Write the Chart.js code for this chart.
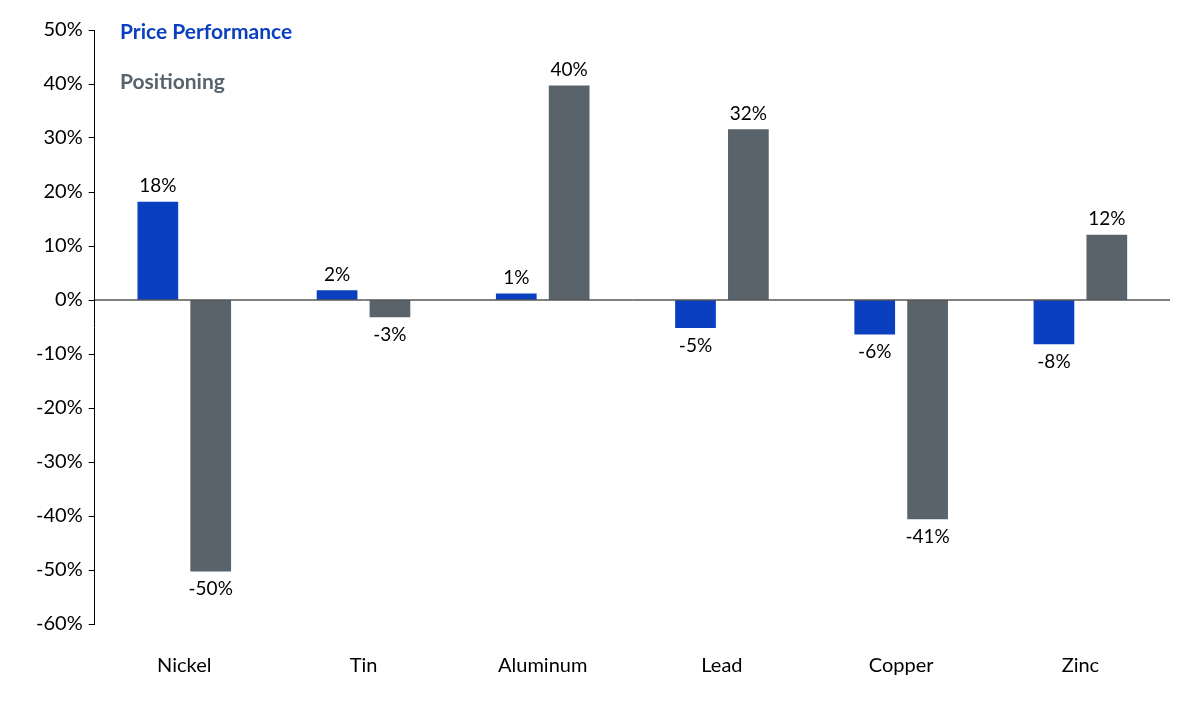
<!DOCTYPE html>
<html>
<head>
<meta charset="utf-8">
<script src="https://cdn.jsdelivr.net/npm/chart.js@4"></script>
<style>
  html, body { margin: 0; padding: 0; background: #fff; }
  #wrap { width: 1200px; height: 704px; }
</style>
</head>
<body>
<div id="wrap"><canvas id="metals"></canvas></div>
<script>
// data
const categories = ['Nickel', 'Tin', 'Aluminum', 'Lead', 'Copper', 'Zinc'];
const pricePerformance = [18.2, 1.8, 1.2, -5.2, -6.4, -8.2];
const positioning = [-50.3, -3.2, 39.7, 31.6, -40.6, 12.1];

const BLUE = '#0a3fbf';
const GREY = '#58636b';
const FONT = 'Lato, "Open Sans", sans-serif';

// labels above/below each bar and the zero line + legend text
const extras = {
  id: 'extras',
  afterDatasetsDraw(chart) {
    const { ctx, chartArea, scales } = chart;
    const y0 = scales.y.getPixelForValue(0);
    ctx.save();
    ctx.strokeStyle = '#000';
    ctx.lineWidth = 1;
    ctx.beginPath();
    ctx.moveTo(chartArea.left, y0);
    ctx.lineTo(chartArea.right, y0);
    ctx.stroke();

    ctx.font = '19px ' + FONT;
    ctx.fillStyle = '#000';
    ctx.textAlign = 'center';
    chart.data.datasets.forEach((ds, i) => {
      chart.getDatasetMeta(i).data.forEach((bar, j) => {
        const v = ds.data[j];
        const txt = Math.round(v) + '%';
        if (v >= 0) {
          ctx.textBaseline = 'bottom';
          ctx.fillText(txt, bar.x, bar.y - 6);
        } else {
          ctx.textBaseline = 'top';
          ctx.fillText(txt, bar.x, bar.y + 8);
        }
      });
    });

    ctx.textAlign = 'left';
    ctx.textBaseline = 'middle';
    ctx.font = 'bold 21px ' + FONT;
    ctx.fillStyle = BLUE;
    ctx.fillText('Price Performance', 120, 32);
    ctx.fillStyle = GREY;
    ctx.fillText('Positioning', 120, 82);
    ctx.restore();
  }
};

new Chart(document.getElementById('metals').getContext('2d'), {
  type: 'bar',
  data: {
    labels: categories,
    datasets: [
      { label: 'Price Performance', data: pricePerformance, backgroundColor: BLUE },
      { label: 'Positioning', data: positioning, backgroundColor: GREY }
    ]
  },
  options: {
    responsive: true,
    maintainAspectRatio: false,
    animation: false,
    layout: { padding: { top: 30, right: 30, bottom: 4, left: 30 } },
    datasets: { bar: { categoryPercentage: 0.59, barPercentage: 0.77 } },
    scales: {
      x: {
        grid: { display: false },
        border: { display: false },
        ticks: { color: '#000', font: { size: 20, family: FONT }, padding: 22 }
      },
      y: {
        min: -60, max: 50,
        grid: { drawOnChartArea: false, tickLength: 6, color: '#000' },
        border: { color: '#000' },
        ticks: {
          stepSize: 10,
          color: '#000',
          font: { size: 20, family: FONT },
          padding: 6,
          callback: v => v + '%'
        }
      }
    },
    plugins: { legend: { display: false }, tooltip: { enabled: false } }
  },
  plugins: [extras]
});
</script>
</body>
</html>
